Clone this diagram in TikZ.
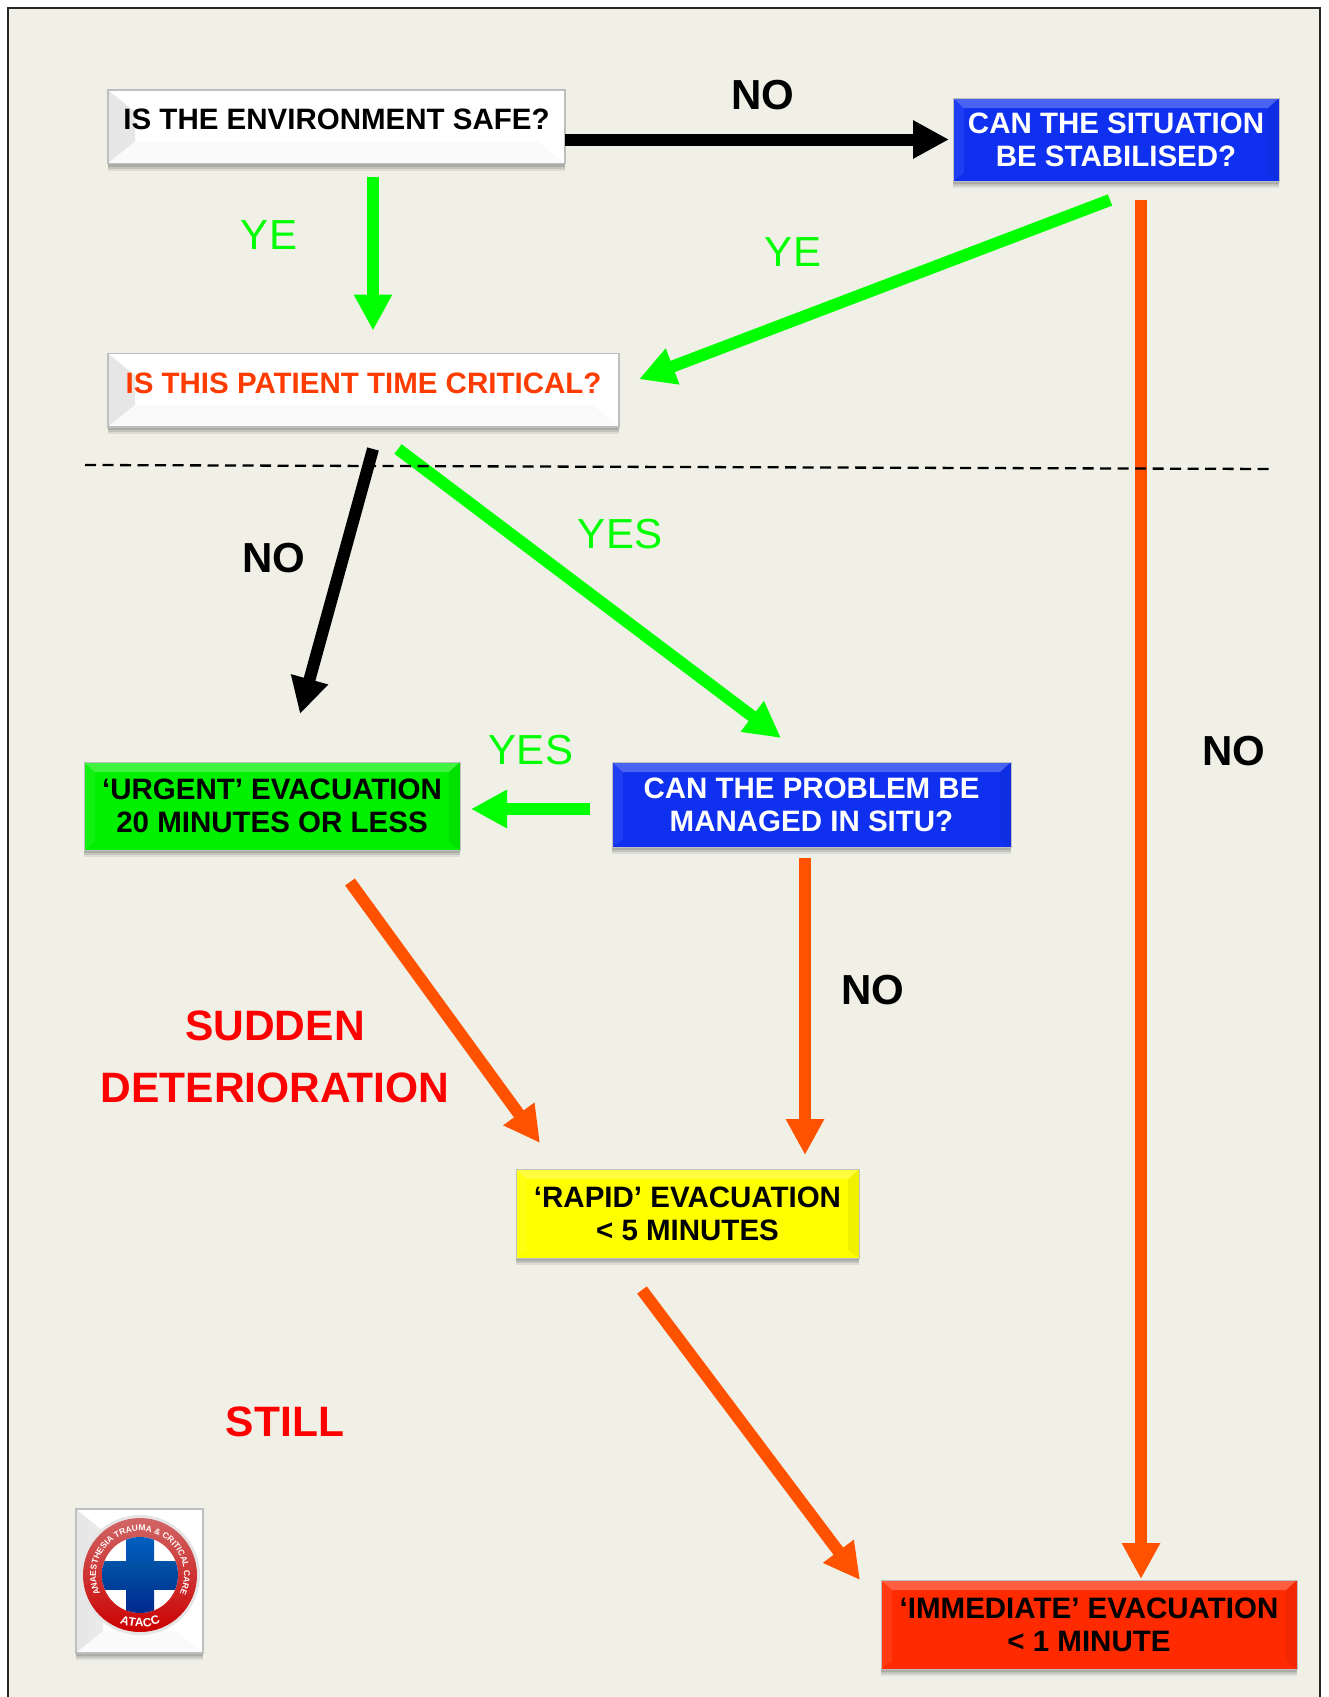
\documentclass[tikz,border=0pt]{standalone}
\usepackage{fontspec}
\setmainfont{Liberation Sans}
\usetikzlibrary{positioning}
\usetikzlibrary{arrows.meta}
\usetikzlibrary{shadows}
\usetikzlibrary{decorations.text}
\definecolor{paper}{HTML}{F0F0E7}
\definecolor{arrowgreen}{HTML}{00FF00}
\definecolor{arroworange}{HTML}{FF5200}
\definecolor{critorange}{HTML}{FF3C00}
\definecolor{boxblue}{HTML}{1030F0}
\definecolor{boxgreen}{HTML}{00F000}
\definecolor{boxyellow}{HTML}{FFFF00}
\definecolor{boxred}{HTML}{FF2A00}
\tikzset{%
  greenarrow/.style = {-{Triangle[length=36pt,width=36pt]},line width=12pt,arrowgreen},
  blackarrow/.style = {-{Triangle[length=36pt,width=36pt]},line width=12pt,black},
  orangearrow/.style = {-{Triangle[length=36pt,width=36pt]},line width=12pt,arroworange},
  whitebevel/.style = {path picture={
        \shade[left color=black!10,right color=white]
            (path picture bounding box.north west) -- ([shift={(27,22)}]path picture bounding box.north west)
            -- ([shift={(27,-22)}]path picture bounding box.south west) -- (path picture bounding box.south west) -- cycle;
        \fill[black!2]
            (path picture bounding box.south west) -- ([shift={(27,-22)}]path picture bounding box.south west)
            -- ([shift={(-27,-22)}]path picture bounding box.south east) -- (path picture bounding box.south east) -- cycle;
  }},
  colourbevel/.style = {path picture={
        \fill[white,opacity=.25]
            (path picture bounding box.north west) -- ([shift={(11,10)}]path picture bounding box.north west)
            -- ([shift={(-11,10)}]path picture bounding box.north east) -- (path picture bounding box.north east) -- cycle;
        \fill[white,opacity=.07]
            (path picture bounding box.north west) -- ([shift={(11,10)}]path picture bounding box.north west)
            -- ([shift={(11,-8)}]path picture bounding box.south west) -- (path picture bounding box.south west) -- cycle;
        \fill[black,opacity=.06]
            (path picture bounding box.north east) -- ([shift={(-11,10)}]path picture bounding box.north east)
            -- ([shift={(-11,-8)}]path picture bounding box.south east) -- (path picture bounding box.south east) -- cycle;
  }},
  boxshadow/.style = {
        drop shadow={shadow xshift=0pt,shadow yshift=-7pt,opacity=.12,fill=black!70},
        drop shadow={shadow xshift=0pt,shadow yshift=-5pt,opacity=.16,fill=black!70},
        drop shadow={shadow xshift=0pt,shadow yshift=-3pt,opacity=.2,fill=black!70}},
  whitebox/.style = {rectangle,draw=black!25,line width=1.2pt,fill=white,inner sep=0pt,outer sep=0pt,boxshadow,whitebevel,
        font=\fontsize{29.5}{33}\selectfont\bfseries,text depth=34pt,text height=39.5pt},
  colourbox/.style = {rectangle,draw=black!25,line width=.8pt,inner sep=0pt,outer sep=0pt,boxshadow,colourbevel,align=center,
        font=\fontsize{29.5}{33}\selectfont\bfseries},
  bignote/.style = {font=\fontsize{42}{42}\selectfont\bfseries},
  greennote/.style = {font=\fontsize{42}{42}\selectfont,text=arrowgreen},
  rednote/.style = {font=\fontsize{42.5}{42.5}\selectfont\bfseries,text=red}
}
\begin{document}
\begin{tikzpicture}[x=1pt,y=-1pt]
\useasboundingbox (0,0) rectangle (1328,1697);
\fill[paper] (8,8) rectangle (1320,1697);
\draw[line width=1.8pt,black!85] (8,1697) -- (8,8) -- (1320,8) -- (1320,1697);
\node[whitebox,minimum width=457pt,anchor=north west] (envbox) at (108,90) {IS THE ENVIRONMENT SAFE?};
\node[whitebox,minimum width=511pt,below=190pt of envbox.south west,anchor=north west,text=critorange] (critbox) {IS THIS PATIENT TIME CRITICAL?};
\node[colourbox,fill=boxblue,text=white,minimum width=326pt,minimum height=83pt,
    right=388pt of envbox.north east,anchor=north west,yshift=-8pt] (stabbox) {CAN THE SITUATION\\BE STABILISED?};
\node[colourbox,fill=boxgreen,minimum width=376pt,minimum height=88pt,
    below=335pt of critbox.south west,anchor=north west,xshift=-24pt] (urgentbox) {‘URGENT’ EVACUATION\\20 MINUTES OR LESS};
\node[colourbox,fill=boxblue,text=white,minimum width=399pt,minimum height=85pt,
    right=152pt of urgentbox.north east,anchor=north west] (probbox) {CAN THE PROBLEM BE\\MANAGED IN SITU?};
\node[colourbox,fill=boxyellow,minimum width=343pt,minimum height=89pt,
    below=322pt of probbox.south west,anchor=north west,xshift=-96pt] (rapidbox) {‘RAPID’ EVACUATION\\< 5 MINUTES};
\node[colourbox,fill=boxred,minimum width=416pt,minimum height=89pt,
    below=322pt of rapidbox.south east,anchor=north west,xshift=22pt] (immbox) {‘IMMEDIATE’ EVACUATION\\< 1 MINUTE};

\draw[blackarrow,shorten >=4pt] (envbox.east |- stabbox.west) -- (stabbox.west);
\draw[greenarrow] ([shift={(36.5,13)}]envbox.south) -- ([shift={(9.5,-23)}]critbox.north);
\draw[greenarrow] ([shift={(-6,19)}]stabbox.south) -- ([shift={(20,-11)}]critbox.east);
\draw[orangearrow] ([shift={(25,19)}]stabbox.south) -- ([shift={(52,-1)}]immbox.north);
\draw[blackarrow] ([shift={(9.5,22)}]critbox.south) -- ([shift={(28,-48)}]urgentbox.north);
\draw[greenarrow] ([shift={(34.5,22)}]critbox.south) -- ([shift={(-30.5,-24)}]probbox.north);
\draw[greenarrow] ([shift={(-22,4.5)}]probbox.west) -- ([shift={(11,3)}]urgentbox.east);
\draw[orangearrow] ([shift={(-6.5,11)}]probbox.south) -- ([shift={(117.5,-14)}]rapidbox.north);
\draw[orangearrow] ([shift={(78,32)}]urgentbox.south) -- ([shift={(-147.5,-26)}]rapidbox.north);
\draw[orangearrow] ([shift={(-45.5,32)}]rapidbox.south) -- ([shift={(-21,0)}]immbox.north west);

\coordinate (dashleft) at (85,465);
\coordinate (dashright) at (1274,469);
\draw[line width=2.3pt,dash pattern=on 11pt off 6.5pt] (dashleft) -- (dashright);

\node[bignote] (nosafe) at (763,95) {NO};
\node[greennote] (yesafe) at (269,235) {YE};
\node[greennote] (yestab) at (793,252) {YE};
\node[greennote] (yescrit) at (620,534) {YES};
\node[bignote] (nocrit) at (274,558) {NO};
\node[bignote] (nostab) at (1234,751) {NO};
\node[greennote] (yesprob) at (531,750) {YES};
\node[bignote] (noprob) at (873,990) {NO};
\node[rednote] (sudden) at (275,1026) {SUDDEN};
\node[rednote] (deter) at (275,1088) {DETERIORATION};
\node[rednote] (still) at (285,1422) {STILL};

\node[whitebox,minimum width=127pt,minimum height=144pt,text depth=0pt,text height=0pt,anchor=north west] (logobox) at (76,1509) {};
\coordinate (logomid) at (140,1575);
\fill[black!10] (logomid) circle (60);
\shade[top color=red!70!black!60!white,bottom color=red!80!black] (logomid) circle (57);
\fill[white] (logomid) circle (38);
\begin{scope}
\clip (logomid) circle (38);
\shade[top color=blue!50!cyan!75!black,bottom color=blue!70!cyan!55!black] ([shift={(-14,-38)}]logomid) rectangle ([shift={(14,38)}]logomid);
\shade[top color=blue!50!cyan!65!black,bottom color=blue!60!cyan!60!black] ([shift={(-38,-14)}]logomid) rectangle ([shift={(38,14)}]logomid);
\end{scope}
\path[decorate,decoration={text along path,text align=center,
    text={|\fontsize{8.5}{9}\selectfont\bfseries\color{white}|ANAESTHESIA TRAUMA {\&} CRITICAL CARE}}]
    ([shift={(-215:44)}]logomid) arc[start angle=-215,end angle=35,radius=44];
\path[decorate,decoration={text along path,text align=center,
    text={|\fontsize{12}{12}\selectfont\bfseries\color{white}|ATACC}}]
    ([shift={(-235:52)}]logomid) arc[start angle=-235,end angle=-305,radius=52];
\end{tikzpicture}
\end{document}
